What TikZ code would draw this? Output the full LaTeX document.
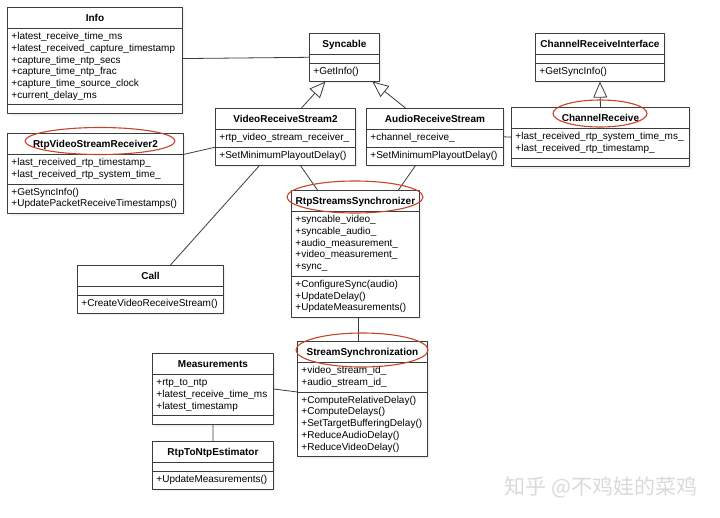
\documentclass[tikz,border=0pt]{standalone}
\usepackage{fontspec}
\setmainfont{Liberation Sans}
\newfontfamily\cjkfont{Noto Sans CJK SC}
\usetikzlibrary{shapes.multipart,arrows.meta,shadows}
\setlength{\parindent}{0pt}
\definecolor{boxline}{HTML}{3C3C3C}
\definecolor{hlred}{HTML}{C8432B}
\newcommand\umlfont{\fontsize{10}{11.7}\selectfont}
\newcommand\ctitle[1]{\hfill\textbf{#1}\hfill\rule[-3.75pt]{0pt}{14.7pt}}
\newcommand\nopart{\rule{0pt}{2.7pt}}
\begin{document}
\begin{tikzpicture}[x=1pt, y=-1pt, line join=round, line cap=round,
	umlclass/.style={rectangle split, rectangle split parts=3, draw=boxline, fill=white, line width=0.9pt,
		anchor=north west, align=left, font=\umlfont, inner xsep=4pt, inner ysep=2.65pt,
		drop shadow={opacity=0.12, shadow xshift=2pt, shadow yshift=-2pt}},
	link/.style={draw=boxline, line width=0.8pt},
	inherit/.style={link, -{Triangle[open, length=16pt, width=14pt]}},
	hl/.style={draw=hlred, line width=1.1pt}]
			\useasboundingbox (0,0) rectangle (720,517);
			% classes
			\node[umlclass, text width=167pt] (info) at (7,7) {\ctitle{Info}\nodepart{two}\strut+latest\_receive\_time\_ms\\+latest\_received\_capture\_timestamp\\+capture\_time\_ntp\_secs\\+capture\_time\_ntp\_frac\\+capture\_time\_source\_clock\\+current\_delay\_ms\strut\nodepart{three}\nopart};
			\node[umlclass, text width=62pt] (sync) at (309,33) {\ctitle{Syncable}\nodepart{two}\nopart\nodepart{three}\strut+GetInfo()\strut};
			\node[umlclass, text width=121pt] (cri) at (535,33) {\ctitle{ChannelReceiveInterface}\nodepart{two}\nopart\nodepart{three}\strut+GetSyncInfo()\strut};
			\node[umlclass, text width=132pt] (vrs) at (215,108) {\ctitle{VideoReceiveStream2}\nodepart{two}\strut+rtp\_video\_stream\_receiver\_\strut\nodepart{three}\strut+SetMinimumPlayoutDelay()\strut};
			\node[umlclass, text width=129pt] (ars) at (366,108) {\ctitle{AudioReceiveStream}\nodepart{two}\strut+channel\_receive\_\strut\nodepart{three}\strut+SetMinimumPlayoutDelay()\strut};
			\node[umlclass, text width=170pt] (chrecv) at (511,107) {\ctitle{ChannelReceive}\nodepart{two}\strut+last\_received\_rtp\_system\_time\_ms\_\\+last\_received\_rtp\_timestamp\_\strut\nodepart{three}\nopart};
			\node[umlclass, text width=168pt] (rvsr) at (7,133) {\ctitle{RtpVideoStreamReceiver2}\nodepart{two}\strut+last\_received\_rtp\_timestamp\_\\+last\_received\_rtp\_system\_time\_\strut\nodepart{three}\strut+GetSyncInfo()\\+UpdatePacketReceiveTimestamps()\strut};
			\node[umlclass, text width=138pt] (call) at (77,265) {\ctitle{Call}\nodepart{two}\nopart\nodepart{three}\strut+CreateVideoReceiveStream()\strut};
			\node[umlclass, text width=120pt] (rss) at (291,190) {\ctitle{RtpStreamsSynchronizer}\nodepart{two}\strut+syncable\_video\_\\+syncable\_audio\_\\+audio\_measurement\_\\+video\_measurement\_\\+sync\_\strut\nodepart{three}\strut+ConfigureSync(audio)\\+UpdateDelay()\\+UpdateMeasurements()\strut};
			\node[umlclass, text width=122pt] (ss) at (297,341) {\ctitle{StreamSynchronization}\nodepart{two}\strut+video\_stream\_id\_\\+audio\_stream\_id\_\strut\nodepart{three}\strut+ComputeRelativeDelay()\\+ComputeDelays()\\+SetTargetBufferingDelay()\\+ReduceAudioDelay()\\+ReduceVideoDelay()\strut};
			\node[umlclass, text width=113pt] (meas) at (152,353) {\ctitle{Measurements}\nodepart{two}\strut+rtp\_to\_ntp\\+latest\_receive\_time\_ms\\+latest\_timestamp\strut\nodepart{three}\nopart};
			\node[umlclass, text width=113pt] (rtne) at (152,441) {\ctitle{RtpToNtpEstimator}\nodepart{two}\nopart\nodepart{three}\strut+UpdateMeasurements()\strut};
			% connectors
			\draw[link]
			([yshift=2pt]info.east)--(sync.west)
			(ars.east)--(chrecv.west)
			(rvsr.text split east)--(vrs.two split west)
			([xshift=20pt]call.north)--([xshift=-26pt]vrs.south)
			([xshift=15pt]vrs.south)--([xshift=-38pt]rss.north)
			([xshift=-19.5pt]ars.south)--([xshift=43pt]rss.north)
			([xshift=3pt]rss.south)--([xshift=-4pt]ss.north)
			(meas.east)--(ss.two split west)
			(meas.south)--(rtne.north)
			;
			\draw[inherit] ([xshift=16pt]vrs.north)--([xshift=-19pt]sync.south);
			\draw[inherit] ([xshift=-29.5pt]ars.north)--([xshift=28pt]sync.south);
			\draw[inherit] (chrecv.north)--(cri.south);
			% highlights
			\draw[hl] (100,141) ellipse [x radius=75, y radius=13.5];
			\draw[hl] (600,113.5) ellipse [x radius=47, y radius=13.5];
			\draw[hl] (355,197) ellipse [x radius=68, y radius=16];
			\draw[hl] (362,350) ellipse [x radius=66, y radius=17];
			\node[font=\cjkfont\fontsize{21}{21}\selectfont, text=gray!30, anchor=west] (wm) at (501,487) {知乎 @不鸡娃的菜鸡};
		\end{tikzpicture}
\end{document}
